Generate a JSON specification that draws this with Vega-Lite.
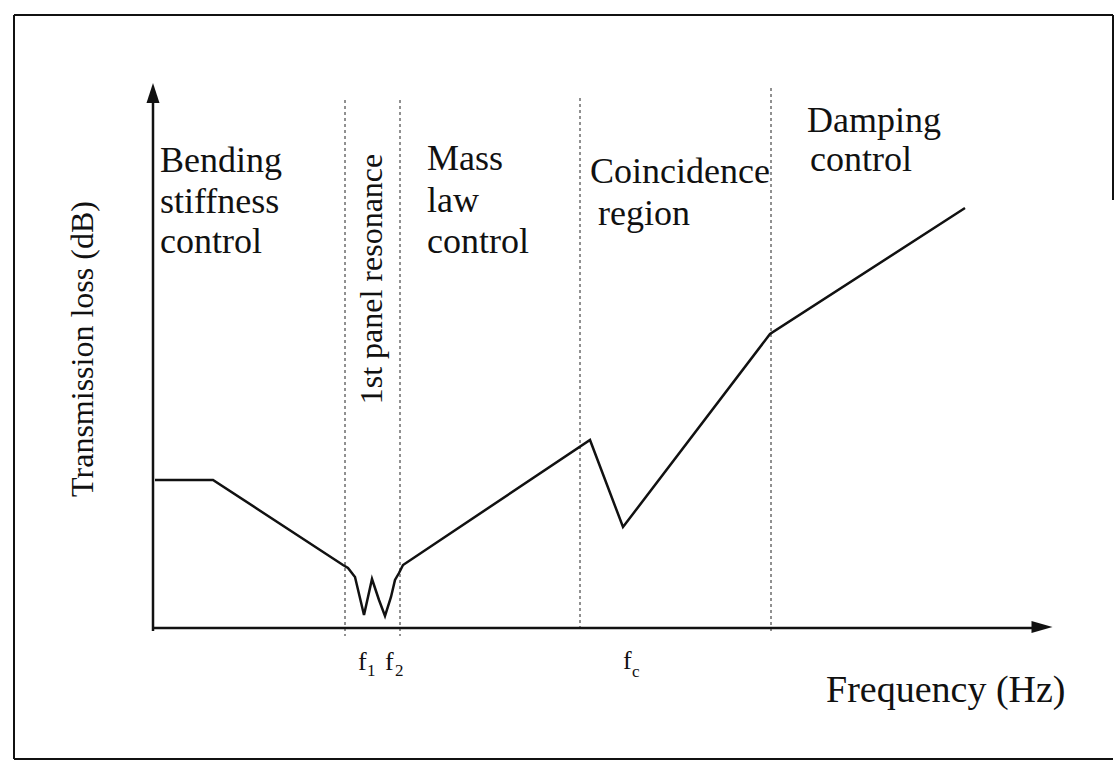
{
  "$schema": "https://vega.github.io/schema/vega-lite/v6.json",
  "width": 1115,
  "height": 763,
  "padding": 0,
  "autosize": {"type": "fit", "contains": "padding"},
  "background": "white",
  "config": {"view": {"stroke": null}, "text": {"font": "Liberation Serif, Times New Roman, DejaVu Serif, serif"}},
  "encoding": {
    "x": {"field": "x", "type": "quantitative", "scale": {"domain": [-153, 962], "nice": false, "zero": false}, "axis": null},
    "y": {"field": "y", "type": "quantitative", "scale": {"domain": [-135, 628], "nice": false, "zero": false}, "axis": null}
  },
  "layer": [
    {
      "data": {"values": [
        {"x": -139, "y": 613, "x2": 960, "y2": 613},
        {"x": -139, "y": 613, "x2": -139, "y2": -131},
        {"x": -139, "y": -131, "x2": 960, "y2": -131},
        {"x": 960, "y": 613, "x2": 960, "y2": 428}
      ]},
      "mark": {"type": "rule", "stroke": "#111", "strokeWidth": 2},
      "encoding": {"x2": {"field": "x2"}, "y2": {"field": "y2"}}
    },
    {
      "data": {"values": [
        {"x": 192, "y": 528, "x2": 192, "y2": -8},
        {"x": 247, "y": 528, "x2": 247, "y2": -8},
        {"x": 427, "y": 530, "x2": 427, "y2": -4},
        {"x": 618, "y": 540, "x2": 618, "y2": -6}
      ]},
      "mark": {"type": "rule", "stroke": "#222", "strokeWidth": 1, "strokeDash": [3, 3]},
      "encoding": {"x2": {"field": "x2"}, "y2": {"field": "y2"}}
    },
    {
      "data": {"values": [
        {"x": 0, "y": -3, "x2": 0, "y2": 530},
        {"x": 0, "y": 0, "x2": 880, "y2": 0}
      ]},
      "mark": {"type": "rule", "stroke": "#111", "strokeWidth": 2.5},
      "encoding": {"x2": {"field": "x2"}, "y2": {"field": "y2"}}
    },
    {
      "data": {"values": [
        {"x": 0, "y": 535, "dir": "up"}
      ]},
      "mark": {"type": "point", "filled": true, "fill": "#111", "opacity": 1, "strokeWidth": 0, "size": 400, "shape": "M-0.65,1L0,-1L0.65,1Z"}
    },
    {
      "data": {"values": [
        {"x": 889, "y": 1, "dir": "right"}
      ]},
      "mark": {"type": "point", "filled": true, "fill": "#111", "opacity": 1, "strokeWidth": 0, "size": 441, "shape": "M-1,-0.57L1,0L-1,0.57Z"}
    },
    {
      "data": {"values": [
        {"i": 0, "x": 2, "y": 148},
        {"i": 1, "x": 60, "y": 148},
        {"i": 2, "x": 190, "y": 63},
        {"i": 3, "x": 195, "y": 60},
        {"i": 4, "x": 202, "y": 51},
        {"i": 5, "x": 211, "y": 13},
        {"i": 6, "x": 219, "y": 49},
        {"i": 7, "x": 226, "y": 28},
        {"i": 8, "x": 232, "y": 12},
        {"i": 9, "x": 238, "y": 31},
        {"i": 10, "x": 242, "y": 48},
        {"i": 11, "x": 246, "y": 55},
        {"i": 12, "x": 250, "y": 63},
        {"i": 13, "x": 437, "y": 188},
        {"i": 14, "x": 470, "y": 101},
        {"i": 15, "x": 617, "y": 294},
        {"i": 16, "x": 812, "y": 420}
      ]},
      "mark": {"type": "line", "stroke": "#111", "strokeWidth": 2.5, "strokeJoin": "miter"},
      "encoding": {"order": {"field": "i", "type": "quantitative"}}
    },
    {
      "data": {"values": [
        {"x": 7, "y": 456, "label": "Bending", "fs": 36},
        {"x": 7, "y": 415, "label": "stiffness", "fs": 36},
        {"x": 7, "y": 375, "label": "control", "fs": 36},
        {"x": 274, "y": 458, "label": "Mass", "fs": 36},
        {"x": 274, "y": 416, "label": "law", "fs": 36},
        {"x": 274, "y": 375, "label": "control", "fs": 36},
        {"x": 437, "y": 445, "label": "Coincidence", "fs": 36},
        {"x": 445, "y": 403, "label": "region", "fs": 36},
        {"x": 654, "y": 496, "label": "Damping", "fs": 36},
        {"x": 657, "y": 457, "label": "control", "fs": 36},
        {"x": 673, "y": -74, "label": "Frequency (Hz)", "fs": 38},
        {"x": 205, "y": -42, "label": "f", "fs": 26},
        {"x": 214, "y": -48, "label": "1", "fs": 17},
        {"x": 232, "y": -42, "label": "f", "fs": 26},
        {"x": 242, "y": -48, "label": "2", "fs": 17},
        {"x": 470, "y": -41, "label": "f", "fs": 26},
        {"x": 479, "y": -49, "label": "c", "fs": 17}
      ]},
      "mark": {"type": "text", "font": "Liberation Serif, Times New Roman, DejaVu Serif, serif", "align": "left", "baseline": "alphabetic", "fill": "#111"},
      "encoding": {
        "text": {"field": "label"},
        "size": {"field": "fs", "type": "quantitative", "scale": null}
      }
    },
    {
      "data": {"values": [
        {"x": -60, "y": 279, "label": "Transmission loss (dB)", "fs": 32},
        {"x": 229, "y": 349, "label": "1st panel resonance", "fs": 32}
      ]},
      "mark": {"type": "text", "font": "Liberation Serif, Times New Roman, DejaVu Serif, serif", "align": "center", "baseline": "alphabetic", "angle": 270, "fill": "#111"},
      "encoding": {
        "text": {"field": "label"},
        "size": {"field": "fs", "type": "quantitative", "scale": null}
      }
    }
  ]
}
